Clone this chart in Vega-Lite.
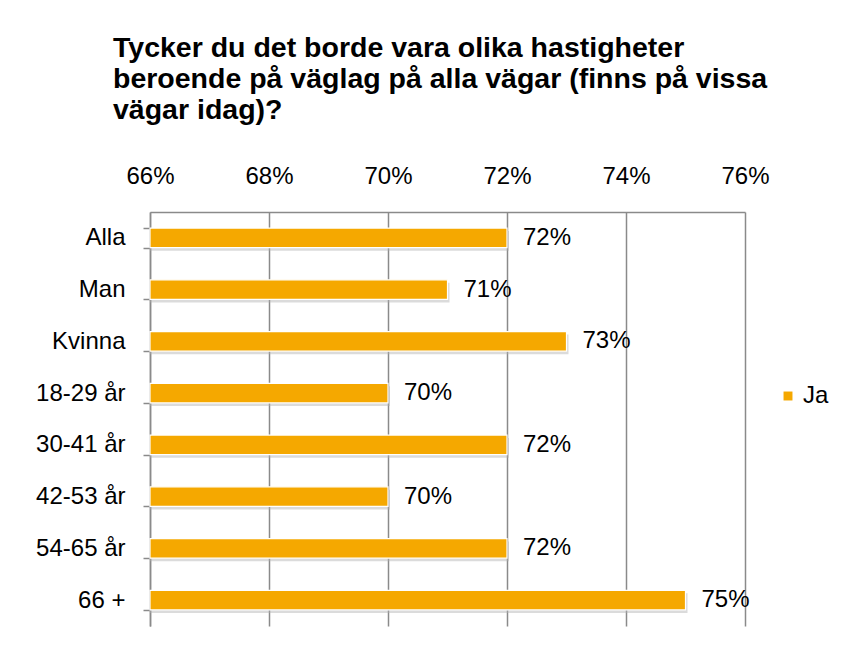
{
  "$schema": "https://vega.github.io/schema/vega-lite/v6.json",
  "width": 595,
  "height": 414,
  "autosize": {"type": "none"},
  "padding": {"left": 150, "top": 212, "right": 123, "bottom": 22},
  "background": "white",
  "title": {
    "text": ["Tycker du det borde vara olika hastigheter", "beroende på väglag på alla vägar (finns på vissa", "vägar idag)?"],
    "anchor": "start",
    "frame": "group",
    "dx": -37,
    "offset": 40,
    "font": "Liberation Sans",
    "fontSize": 28.5,
    "fontWeight": "bold",
    "color": "black",
    "lineHeight": 31
  },
  "data": {
    "values": [
      {"grupp": "Alla", "andel": 0.72, "svar": "Ja"},
      {"grupp": "Man", "andel": 0.71, "svar": "Ja"},
      {"grupp": "Kvinna", "andel": 0.73, "svar": "Ja"},
      {"grupp": "18-29 år", "andel": 0.70, "svar": "Ja"},
      {"grupp": "30-41 år", "andel": 0.72, "svar": "Ja"},
      {"grupp": "42-53 år", "andel": 0.70, "svar": "Ja"},
      {"grupp": "54-65 år", "andel": 0.72, "svar": "Ja"},
      {"grupp": "66 +", "andel": 0.75, "svar": "Ja"}
    ]
  },
  "encoding": {
    "y": {
      "field": "grupp",
      "type": "nominal",
      "sort": null,
      "scale": {"paddingInner": 0.62, "paddingOuter": 0.31},
      "axis": {
        "title": null,
        "orient": "left",
        "tickBand": "extent",
        "ticks": true,
        "tickSize": 7,
        "tickColor": "#8a8a8a",
        "tickWidth": 1.5,
        "domainColor": "#8a8a8a",
        "domainWidth": 1.5,
        "labelPadding": 18,
        "labelFont": "Liberation Sans",
        "labelFontSize": 24,
        "labelColor": "black",
        "grid": false
      }
    },
    "x": {
      "field": "andel",
      "type": "quantitative",
      "scale": {"domain": [0.66, 0.76], "zero": false, "nice": false},
      "axis": {
        "title": null,
        "orient": "top",
        "values": [0.66, 0.68, 0.70, 0.72, 0.74, 0.76],
        "format": ".0%",
        "ticks": false,
        "tickSize": 0,
        "labelFlush": false,
        "labelPadding": 24,
        "labelFont": "Liberation Sans",
        "labelFontSize": 24,
        "labelColor": "black",
        "domainColor": "#8a8a8a",
        "domainWidth": 1.5,
        "grid": true,
        "gridColor": "#8a8a8a",
        "gridWidth": 1.5
      }
    }
  },
  "layer": [
    {
      "mark": {"type": "bar", "color": "#b0b0b0", "opacity": 0.45, "xOffset": 2, "yOffset": 3},
      "encoding": {"x2": {"datum": 0.66}}
    },
    {
      "mark": {"type": "bar", "stroke": "white", "strokeWidth": 1.2},
      "encoding": {
        "x2": {"datum": 0.66},
        "color": {
          "field": "svar",
          "type": "nominal",
          "scale": {"range": ["#F5A800"]},
          "legend": {
            "title": null,
            "orient": "none",
            "legendX": 626,
            "legendY": 172,
            "symbolType": "square",
            "symbolSize": 80,
            "symbolStrokeWidth": 0,
            "labelFont": "Liberation Sans",
            "labelFontSize": 24,
            "labelColor": "black",
            "labelOffset": 3,
            "padding": 0
          }
        }
      }
    },
    {
      "mark": {"type": "text", "align": "left", "baseline": "middle", "dx": 16, "font": "Liberation Sans", "fontSize": 24, "color": "black"},
      "encoding": {"text": {"field": "andel", "type": "quantitative", "format": ".0%"}}
    }
  ],
  "config": {"view": {"stroke": null}}
}
